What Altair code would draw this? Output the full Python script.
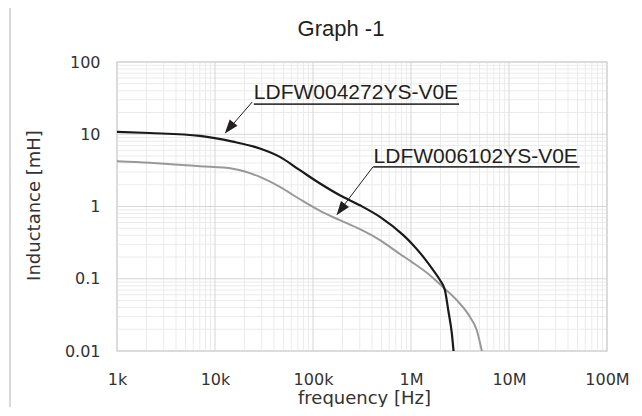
import altair as alt
import pandas as pd

# ---- data ----
chart_title = "Graph -1"
black_name = "LDFW004272YS-V0E"
black_freq = [1e3, 2.16e3, 7.0e3, 15.2e3, 28.7e3, 45.9e3, 73.5e3, 118e3, 188e3, 301e3,
              482e3, 834e3, 1.016e6, 1.335e6, 1.69e6, 1.98e6, 2.22e6, 2.40e6, 2.61e6, 2.72e6]
black_L = [10.8, 10.4, 9.5, 7.9, 6.35, 4.86, 3.18, 2.08, 1.43, 1.04,
           0.718, 0.401, 0.308, 0.201, 0.131, 0.0955, 0.0695, 0.0367, 0.0175, 0.0098]

gray_name = "LDFW006102YS-V0E"
gray_freq = [1e3, 2.16e3, 7.0e3, 15.2e3, 28.7e3, 45.9e3, 73.5e3, 118e3, 188e3, 301e3,
             482e3, 771e3, 1.016e6, 1.56e6, 2.14e6, 2.93e6, 4.0e6, 4.69e6, 5.3e6]
gray_L = [4.24, 4.04, 3.61, 3.34, 2.57, 1.87, 1.26, 0.87, 0.646, 0.485,
          0.342, 0.22, 0.171, 0.112, 0.0757, 0.0505, 0.0296, 0.0194, 0.0098]

x_ticks = [1e3, 1e4, 1e5, 1e6, 1e7, 1e8]
x_tick_labels = ["1k", "10k", "100k", "1M", "10M", "100M"]
y_ticks = [0.01, 0.1, 1, 10, 100]
y_tick_labels = ["0.01", "0.1", "1", "10", "100"]
minor_steps = [2, 3, 4, 5, 6, 7, 8, 9]

# annotation anchors (data coordinates)
ann_text_f = [24.9e3, 415e3]
ann_text_L = [30.3, 3.94]
ann_under_f1 = [24.9e3, 412e3]
ann_under_f2 = [3.09e6, 52.6e6]
ann_under_L = [26.1, 3.53]
ann_lead_f = [24.0e3, 410e3]
ann_lead_L = [28.0, 3.55]
ann_tip_f = [12.9e3, 176e3]
ann_tip_L = [10.6, 0.78]
ann_head_f = [13.96e3, 192e3]
ann_head_L = [12.2, 0.906]
ann_head_angle = [219, 217]

# ---- helpers ----
def label_expr(vals, labs):
    expr = "''"
    for v, l in zip(vals, labs):
        expr = f"abs(datum.value - {v}) < {v * 1e-6} ? '{l}' : " + expr
    return expr

x_minor = [m * d for d in x_ticks[:-1] for m in minor_steps]
y_minor = [m * d for d in y_ticks[:-1] for m in minor_steps]

xs = alt.Scale(type="log", domain=[1e3, 1e8])
ys = alt.Scale(type="log", domain=[0.01, 100])

W, H = 490, 289

AX = dict(labelFont="DejaVu Sans", labelFontSize=16, labelColor="#333333",
          titleFont="DejaVu Sans", titleFontSize=18, titleColor="#333333",
          titleFontWeight="normal", grid=False, domain=False, ticks=False,
          labelFlush=False, labelOverlap=False)

x_axis = alt.Axis(values=x_ticks, labelExpr=label_expr(x_ticks, x_tick_labels),
                  title="frequency [Hz]", labelPadding=20,
                  titleX=247, titleY=52.5, titleBaseline="alphabetic", titleAlign="center", **AX)
y_axis = alt.Axis(values=y_ticks, labelExpr=label_expr(y_ticks, y_tick_labels),
                  title="Inductance [mH]", labelPadding=17,
                  titleX=-78, titleY=143, titleAngle=270, titleBaseline="alphabetic",
                  titleAlign="center", **AX)

grid_minor_x = alt.Chart(pd.DataFrame({"v": x_minor})).mark_rule(
    color="#ebebeb", strokeWidth=1).encode(x=alt.X("v:Q", scale=xs, axis=x_axis))
grid_minor_y = alt.Chart(pd.DataFrame({"v": y_minor})).mark_rule(
    color="#ebebeb", strokeWidth=1).encode(y=alt.Y("v:Q", scale=ys, axis=y_axis))
grid_major_x = alt.Chart(pd.DataFrame({"v": x_ticks})).mark_rule(
    color="#d6d6d6", strokeWidth=1).encode(x=alt.X("v:Q", scale=xs, axis=x_axis))
grid_major_y = alt.Chart(pd.DataFrame({"v": y_ticks})).mark_rule(
    color="#d6d6d6", strokeWidth=1).encode(y=alt.Y("v:Q", scale=ys, axis=y_axis))

df_black = pd.DataFrame({"f": black_freq, "L": black_L})
df_gray = pd.DataFrame({"f": gray_freq, "L": gray_L})

line_gray = alt.Chart(df_gray).mark_line(
    color="#999999", strokeWidth=2, interpolate="monotone", clip=True).encode(
    x=alt.X("f:Q", scale=xs, axis=x_axis), y=alt.Y("L:Q", scale=ys, axis=y_axis))
line_black = alt.Chart(df_black).mark_line(
    color="#1a1a1a", strokeWidth=2.2, interpolate="monotone", clip=True).encode(
    x=alt.X("f:Q", scale=xs, axis=x_axis), y=alt.Y("L:Q", scale=ys, axis=y_axis))

ann = pd.DataFrame({
    "label": [black_name, gray_name],
    "tf": ann_text_f, "tL": ann_text_L,
    "uf1": ann_under_f1, "uf2": ann_under_f2, "uL": ann_under_L,
    "lf": ann_lead_f, "lL": ann_lead_L,
    "pf": ann_tip_f, "pL": ann_tip_L,
    "hf": ann_head_f, "hL": ann_head_L, "ang": ann_head_angle,
})
base = alt.Chart(ann)
ann_text = base.mark_text(font="Liberation Sans", fontSize=21, color="#231f20",
                          align="left", baseline="alphabetic").encode(
    x=alt.X("tf:Q", scale=xs, axis=x_axis), y=alt.Y("tL:Q", scale=ys, axis=y_axis), text="label:N")
ann_under = base.mark_rule(color="#3a3a3a", strokeWidth=1.6).encode(
    x=alt.X("uf1:Q", scale=xs, axis=x_axis), x2="uf2:Q", y=alt.Y("uL:Q", scale=ys, axis=y_axis))
ann_lead = base.mark_rule(color="#231f20", strokeWidth=1).encode(
    x=alt.X("lf:Q", scale=xs, axis=x_axis), x2="pf:Q",
    y=alt.Y("lL:Q", scale=ys, axis=y_axis), y2="pL:Q")
ann_head = base.mark_point(shape="M0,-1L-0.72,1L0.72,1Z", filled=True, size=196,
                           color="#231f20", opacity=1).encode(
    x=alt.X("hf:Q", scale=xs, axis=x_axis), y=alt.Y("hL:Q", scale=ys, axis=y_axis),
    angle=alt.Angle("ang:Q", scale=None))

title_mark = alt.Chart(pd.DataFrame({"t": [chart_title]})).mark_text(
    font="Liberation Sans", fontSize=22, color="#231f20", align="center", baseline="alphabetic"
).encode(x=alt.value(224), y=alt.value(-26), text="t:N")

border = alt.Chart(pd.DataFrame({"k": [0]})).mark_rule(color="#d9d9d9", strokeWidth=2).encode(
    x=alt.value(-107), y=alt.value(-56), y2=alt.value(H + 60))

chart = alt.layer(
    grid_minor_x, grid_minor_y, grid_major_x, grid_major_y,
    line_gray, line_black, ann_under, ann_lead, ann_head, ann_text, title_mark, border
).properties(
    width=W, height=H,
    background="white",
    autosize=alt.AutoSizeParams(type="none"),
    padding={"left": 109, "top": 54, "right": 27, "bottom": 56},
).configure_view(stroke="#d6d6d6", strokeWidth=1.5)

chart.save("out.html", embed_options={"renderer": "svg", "actions": False})
